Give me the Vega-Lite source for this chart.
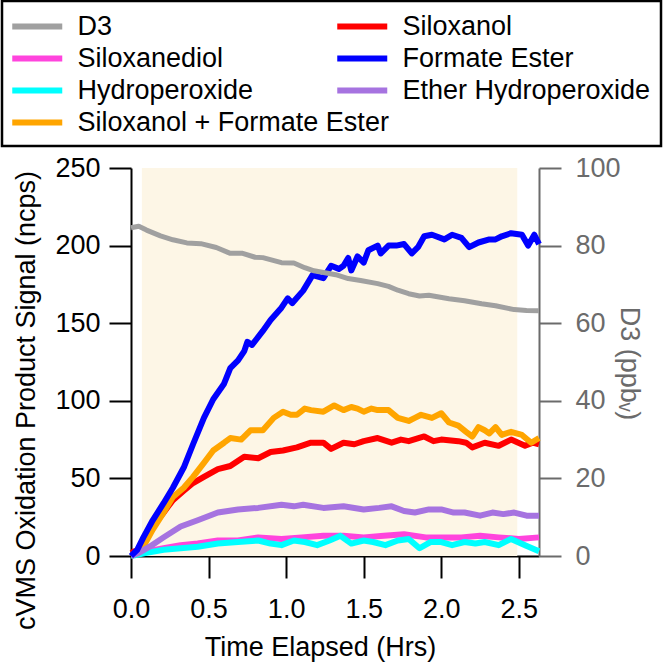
{
  "$schema": "https://vega.github.io/schema/vega-lite/v6.json",
  "width": 408,
  "height": 388,
  "autosize": {"type": "none"},
  "padding": {"left": 131, "top": 168, "right": 127, "bottom": 107},
  "config": {
    "font": "Liberation Sans",
    "view": {"stroke": null},
    "legend": {"strokeWidth": 2.5}
  },
  "datasets": {
    "shade": [{"t0": 0.07, "t1": 2.49}],
    "products": [
      {"s": "Siloxanediol", "t": 0.00, "v": 0},
      {"s": "Siloxanediol", "t": 0.10, "v": 3},
      {"s": "Siloxanediol", "t": 0.21, "v": 5},
      {"s": "Siloxanediol", "t": 0.32, "v": 7},
      {"s": "Siloxanediol", "t": 0.43, "v": 8},
      {"s": "Siloxanediol", "t": 0.56, "v": 10},
      {"s": "Siloxanediol", "t": 0.69, "v": 10},
      {"s": "Siloxanediol", "t": 0.82, "v": 12},
      {"s": "Siloxanediol", "t": 0.97, "v": 11},
      {"s": "Siloxanediol", "t": 1.10, "v": 12},
      {"s": "Siloxanediol", "t": 1.24, "v": 13},
      {"s": "Siloxanediol", "t": 1.37, "v": 13},
      {"s": "Siloxanediol", "t": 1.50, "v": 12},
      {"s": "Siloxanediol", "t": 1.63, "v": 13},
      {"s": "Siloxanediol", "t": 1.76, "v": 14},
      {"s": "Siloxanediol", "t": 1.90, "v": 12},
      {"s": "Siloxanediol", "t": 2.00, "v": 12},
      {"s": "Siloxanediol", "t": 2.13, "v": 12},
      {"s": "Siloxanediol", "t": 2.25, "v": 13},
      {"s": "Siloxanediol", "t": 2.37, "v": 12},
      {"s": "Siloxanediol", "t": 2.50, "v": 11},
      {"s": "Siloxanediol", "t": 2.63, "v": 12},
      {"s": "Hydroperoxide", "t": 0.00, "v": 0},
      {"s": "Hydroperoxide", "t": 0.10, "v": 2},
      {"s": "Hydroperoxide", "t": 0.21, "v": 4},
      {"s": "Hydroperoxide", "t": 0.32, "v": 5},
      {"s": "Hydroperoxide", "t": 0.43, "v": 6},
      {"s": "Hydroperoxide", "t": 0.56, "v": 8},
      {"s": "Hydroperoxide", "t": 0.69, "v": 9},
      {"s": "Hydroperoxide", "t": 0.82, "v": 10},
      {"s": "Hydroperoxide", "t": 0.90, "v": 8},
      {"s": "Hydroperoxide", "t": 0.97, "v": 7},
      {"s": "Hydroperoxide", "t": 1.05, "v": 10},
      {"s": "Hydroperoxide", "t": 1.12, "v": 9},
      {"s": "Hydroperoxide", "t": 1.20, "v": 7},
      {"s": "Hydroperoxide", "t": 1.28, "v": 10},
      {"s": "Hydroperoxide", "t": 1.35, "v": 13},
      {"s": "Hydroperoxide", "t": 1.42, "v": 8},
      {"s": "Hydroperoxide", "t": 1.50, "v": 10},
      {"s": "Hydroperoxide", "t": 1.56, "v": 9},
      {"s": "Hydroperoxide", "t": 1.64, "v": 7},
      {"s": "Hydroperoxide", "t": 1.72, "v": 10},
      {"s": "Hydroperoxide", "t": 1.79, "v": 11},
      {"s": "Hydroperoxide", "t": 1.86, "v": 5},
      {"s": "Hydroperoxide", "t": 1.93, "v": 9},
      {"s": "Hydroperoxide", "t": 2.00, "v": 9},
      {"s": "Hydroperoxide", "t": 2.07, "v": 7},
      {"s": "Hydroperoxide", "t": 2.15, "v": 9},
      {"s": "Hydroperoxide", "t": 2.22, "v": 8},
      {"s": "Hydroperoxide", "t": 2.28, "v": 9},
      {"s": "Hydroperoxide", "t": 2.37, "v": 7},
      {"s": "Hydroperoxide", "t": 2.45, "v": 11},
      {"s": "Hydroperoxide", "t": 2.54, "v": 7},
      {"s": "Hydroperoxide", "t": 2.63, "v": 3},
      {"s": "Siloxanol", "t": 0.00, "v": 2},
      {"s": "Siloxanol", "t": 0.02, "v": 3},
      {"s": "Siloxanol", "t": 0.04, "v": 3},
      {"s": "Siloxanol", "t": 0.08, "v": 8},
      {"s": "Siloxanol", "t": 0.14, "v": 19},
      {"s": "Siloxanol", "t": 0.21, "v": 28},
      {"s": "Siloxanol", "t": 0.27, "v": 36},
      {"s": "Siloxanol", "t": 0.34, "v": 42},
      {"s": "Siloxanol", "t": 0.40, "v": 47},
      {"s": "Siloxanol", "t": 0.47, "v": 51},
      {"s": "Siloxanol", "t": 0.56, "v": 56},
      {"s": "Siloxanol", "t": 0.64, "v": 58},
      {"s": "Siloxanol", "t": 0.73, "v": 64},
      {"s": "Siloxanol", "t": 0.82, "v": 63},
      {"s": "Siloxanol", "t": 0.90, "v": 67},
      {"s": "Siloxanol", "t": 0.98, "v": 68},
      {"s": "Siloxanol", "t": 1.07, "v": 70},
      {"s": "Siloxanol", "t": 1.16, "v": 73},
      {"s": "Siloxanol", "t": 1.24, "v": 73},
      {"s": "Siloxanol", "t": 1.29, "v": 69},
      {"s": "Siloxanol", "t": 1.37, "v": 73},
      {"s": "Siloxanol", "t": 1.44, "v": 72},
      {"s": "Siloxanol", "t": 1.50, "v": 74},
      {"s": "Siloxanol", "t": 1.59, "v": 76},
      {"s": "Siloxanol", "t": 1.68, "v": 73},
      {"s": "Siloxanol", "t": 1.74, "v": 75},
      {"s": "Siloxanol", "t": 1.79, "v": 74},
      {"s": "Siloxanol", "t": 1.89, "v": 77},
      {"s": "Siloxanol", "t": 1.95, "v": 74},
      {"s": "Siloxanol", "t": 2.00, "v": 75},
      {"s": "Siloxanol", "t": 2.11, "v": 74},
      {"s": "Siloxanol", "t": 2.16, "v": 73},
      {"s": "Siloxanol", "t": 2.20, "v": 70},
      {"s": "Siloxanol", "t": 2.28, "v": 73},
      {"s": "Siloxanol", "t": 2.37, "v": 71},
      {"s": "Siloxanol", "t": 2.45, "v": 75},
      {"s": "Siloxanol", "t": 2.54, "v": 71},
      {"s": "Siloxanol", "t": 2.59, "v": 73},
      {"s": "Siloxanol", "t": 2.63, "v": 72},
      {"s": "Siloxanol + Formate Ester", "t": 0.00, "v": 0},
      {"s": "Siloxanol + Formate Ester", "t": 0.04, "v": 2},
      {"s": "Siloxanol + Formate Ester", "t": 0.08, "v": 6},
      {"s": "Siloxanol + Formate Ester", "t": 0.14, "v": 17},
      {"s": "Siloxanol + Formate Ester", "t": 0.21, "v": 28},
      {"s": "Siloxanol + Formate Ester", "t": 0.27, "v": 38},
      {"s": "Siloxanol + Formate Ester", "t": 0.34, "v": 44},
      {"s": "Siloxanol + Formate Ester", "t": 0.40, "v": 51},
      {"s": "Siloxanol + Formate Ester", "t": 0.47, "v": 60},
      {"s": "Siloxanol + Formate Ester", "t": 0.53, "v": 68},
      {"s": "Siloxanol + Formate Ester", "t": 0.60, "v": 73},
      {"s": "Siloxanol + Formate Ester", "t": 0.64, "v": 76},
      {"s": "Siloxanol + Formate Ester", "t": 0.71, "v": 75},
      {"s": "Siloxanol + Formate Ester", "t": 0.77, "v": 81},
      {"s": "Siloxanol + Formate Ester", "t": 0.85, "v": 81},
      {"s": "Siloxanol + Formate Ester", "t": 0.92, "v": 89},
      {"s": "Siloxanol + Formate Ester", "t": 0.98, "v": 93},
      {"s": "Siloxanol + Formate Ester", "t": 1.03, "v": 91},
      {"s": "Siloxanol + Formate Ester", "t": 1.07, "v": 91},
      {"s": "Siloxanol + Formate Ester", "t": 1.12, "v": 95},
      {"s": "Siloxanol + Formate Ester", "t": 1.16, "v": 94},
      {"s": "Siloxanol + Formate Ester", "t": 1.24, "v": 93},
      {"s": "Siloxanol + Formate Ester", "t": 1.31, "v": 97},
      {"s": "Siloxanol + Formate Ester", "t": 1.37, "v": 94},
      {"s": "Siloxanol + Formate Ester", "t": 1.42, "v": 96},
      {"s": "Siloxanol + Formate Ester", "t": 1.46, "v": 95},
      {"s": "Siloxanol + Formate Ester", "t": 1.50, "v": 93},
      {"s": "Siloxanol + Formate Ester", "t": 1.55, "v": 95},
      {"s": "Siloxanol + Formate Ester", "t": 1.59, "v": 94},
      {"s": "Siloxanol + Formate Ester", "t": 1.66, "v": 94},
      {"s": "Siloxanol + Formate Ester", "t": 1.72, "v": 89},
      {"s": "Siloxanol + Formate Ester", "t": 1.79, "v": 87},
      {"s": "Siloxanol + Formate Ester", "t": 1.83, "v": 89},
      {"s": "Siloxanol + Formate Ester", "t": 1.87, "v": 91},
      {"s": "Siloxanol + Formate Ester", "t": 1.94, "v": 89},
      {"s": "Siloxanol + Formate Ester", "t": 2.00, "v": 92},
      {"s": "Siloxanol + Formate Ester", "t": 2.05, "v": 86},
      {"s": "Siloxanol + Formate Ester", "t": 2.11, "v": 84},
      {"s": "Siloxanol + Formate Ester", "t": 2.16, "v": 80},
      {"s": "Siloxanol + Formate Ester", "t": 2.20, "v": 77},
      {"s": "Siloxanol + Formate Ester", "t": 2.24, "v": 83},
      {"s": "Siloxanol + Formate Ester", "t": 2.28, "v": 81},
      {"s": "Siloxanol + Formate Ester", "t": 2.31, "v": 79},
      {"s": "Siloxanol + Formate Ester", "t": 2.35, "v": 83},
      {"s": "Siloxanol + Formate Ester", "t": 2.39, "v": 78},
      {"s": "Siloxanol + Formate Ester", "t": 2.45, "v": 80},
      {"s": "Siloxanol + Formate Ester", "t": 2.52, "v": 78},
      {"s": "Siloxanol + Formate Ester", "t": 2.58, "v": 73},
      {"s": "Siloxanol + Formate Ester", "t": 2.63, "v": 76},
      {"s": "Ether Hydroperoxide", "t": 0.00, "v": 0},
      {"s": "Ether Hydroperoxide", "t": 0.05, "v": 2},
      {"s": "Ether Hydroperoxide", "t": 0.12, "v": 6},
      {"s": "Ether Hydroperoxide", "t": 0.21, "v": 12},
      {"s": "Ether Hydroperoxide", "t": 0.32, "v": 19},
      {"s": "Ether Hydroperoxide", "t": 0.43, "v": 23},
      {"s": "Ether Hydroperoxide", "t": 0.56, "v": 28},
      {"s": "Ether Hydroperoxide", "t": 0.69, "v": 30},
      {"s": "Ether Hydroperoxide", "t": 0.82, "v": 31},
      {"s": "Ether Hydroperoxide", "t": 0.97, "v": 33},
      {"s": "Ether Hydroperoxide", "t": 1.05, "v": 32},
      {"s": "Ether Hydroperoxide", "t": 1.11, "v": 33},
      {"s": "Ether Hydroperoxide", "t": 1.24, "v": 31},
      {"s": "Ether Hydroperoxide", "t": 1.37, "v": 32},
      {"s": "Ether Hydroperoxide", "t": 1.50, "v": 30},
      {"s": "Ether Hydroperoxide", "t": 1.60, "v": 31},
      {"s": "Ether Hydroperoxide", "t": 1.68, "v": 32},
      {"s": "Ether Hydroperoxide", "t": 1.76, "v": 29},
      {"s": "Ether Hydroperoxide", "t": 1.83, "v": 28},
      {"s": "Ether Hydroperoxide", "t": 1.92, "v": 30},
      {"s": "Ether Hydroperoxide", "t": 2.00, "v": 30},
      {"s": "Ether Hydroperoxide", "t": 2.08, "v": 28},
      {"s": "Ether Hydroperoxide", "t": 2.15, "v": 28},
      {"s": "Ether Hydroperoxide", "t": 2.25, "v": 26},
      {"s": "Ether Hydroperoxide", "t": 2.33, "v": 28},
      {"s": "Ether Hydroperoxide", "t": 2.40, "v": 27},
      {"s": "Ether Hydroperoxide", "t": 2.47, "v": 28},
      {"s": "Ether Hydroperoxide", "t": 2.55, "v": 26},
      {"s": "Ether Hydroperoxide", "t": 2.63, "v": 26},
      {"s": "Formate Ester", "t": 0.00, "v": 0},
      {"s": "Formate Ester", "t": 0.04, "v": 4},
      {"s": "Formate Ester", "t": 0.08, "v": 12},
      {"s": "Formate Ester", "t": 0.14, "v": 23},
      {"s": "Formate Ester", "t": 0.21, "v": 34},
      {"s": "Formate Ester", "t": 0.27, "v": 44},
      {"s": "Formate Ester", "t": 0.34, "v": 57},
      {"s": "Formate Ester", "t": 0.40, "v": 72},
      {"s": "Formate Ester", "t": 0.47, "v": 89},
      {"s": "Formate Ester", "t": 0.53, "v": 101},
      {"s": "Formate Ester", "t": 0.60, "v": 111},
      {"s": "Formate Ester", "t": 0.64, "v": 121},
      {"s": "Formate Ester", "t": 0.69, "v": 126},
      {"s": "Formate Ester", "t": 0.73, "v": 132},
      {"s": "Formate Ester", "t": 0.75, "v": 138},
      {"s": "Formate Ester", "t": 0.78, "v": 136},
      {"s": "Formate Ester", "t": 0.85, "v": 145},
      {"s": "Formate Ester", "t": 0.90, "v": 152},
      {"s": "Formate Ester", "t": 0.97, "v": 160},
      {"s": "Formate Ester", "t": 1.01, "v": 166},
      {"s": "Formate Ester", "t": 1.04, "v": 163},
      {"s": "Formate Ester", "t": 1.11, "v": 171},
      {"s": "Formate Ester", "t": 1.17, "v": 181},
      {"s": "Formate Ester", "t": 1.24, "v": 179},
      {"s": "Formate Ester", "t": 1.29, "v": 187},
      {"s": "Formate Ester", "t": 1.34, "v": 185},
      {"s": "Formate Ester", "t": 1.37, "v": 187},
      {"s": "Formate Ester", "t": 1.40, "v": 192},
      {"s": "Formate Ester", "t": 1.42, "v": 184},
      {"s": "Formate Ester", "t": 1.46, "v": 193},
      {"s": "Formate Ester", "t": 1.50, "v": 189},
      {"s": "Formate Ester", "t": 1.53, "v": 197},
      {"s": "Formate Ester", "t": 1.59, "v": 200},
      {"s": "Formate Ester", "t": 1.61, "v": 195},
      {"s": "Formate Ester", "t": 1.66, "v": 200},
      {"s": "Formate Ester", "t": 1.71, "v": 200},
      {"s": "Formate Ester", "t": 1.76, "v": 201},
      {"s": "Formate Ester", "t": 1.81, "v": 195},
      {"s": "Formate Ester", "t": 1.85, "v": 199},
      {"s": "Formate Ester", "t": 1.89, "v": 206},
      {"s": "Formate Ester", "t": 1.94, "v": 207},
      {"s": "Formate Ester", "t": 2.02, "v": 204},
      {"s": "Formate Ester", "t": 2.07, "v": 207},
      {"s": "Formate Ester", "t": 2.13, "v": 205},
      {"s": "Formate Ester", "t": 2.18, "v": 199},
      {"s": "Formate Ester", "t": 2.24, "v": 202},
      {"s": "Formate Ester", "t": 2.31, "v": 204},
      {"s": "Formate Ester", "t": 2.35, "v": 204},
      {"s": "Formate Ester", "t": 2.39, "v": 206},
      {"s": "Formate Ester", "t": 2.45, "v": 208},
      {"s": "Formate Ester", "t": 2.52, "v": 207},
      {"s": "Formate Ester", "t": 2.56, "v": 200},
      {"s": "Formate Ester", "t": 2.60, "v": 207},
      {"s": "Formate Ester", "t": 2.63, "v": 201}
    ],
    "d3": [
      {"s": "D3", "t": 0.00, "v": 84.6},
      {"s": "D3", "t": 0.05, "v": 85.0},
      {"s": "D3", "t": 0.10, "v": 84.0},
      {"s": "D3", "t": 0.19, "v": 82.5},
      {"s": "D3", "t": 0.27, "v": 81.5},
      {"s": "D3", "t": 0.36, "v": 80.7},
      {"s": "D3", "t": 0.45, "v": 80.5},
      {"s": "D3", "t": 0.55, "v": 79.5},
      {"s": "D3", "t": 0.64, "v": 78.0},
      {"s": "D3", "t": 0.72, "v": 78.0},
      {"s": "D3", "t": 0.80, "v": 77.0},
      {"s": "D3", "t": 0.85, "v": 76.9},
      {"s": "D3", "t": 0.97, "v": 75.6},
      {"s": "D3", "t": 1.05, "v": 75.5},
      {"s": "D3", "t": 1.12, "v": 74.3},
      {"s": "D3", "t": 1.18, "v": 73.5},
      {"s": "D3", "t": 1.25, "v": 73.0},
      {"s": "D3", "t": 1.32, "v": 72.5},
      {"s": "D3", "t": 1.40, "v": 71.5},
      {"s": "D3", "t": 1.48, "v": 71.0},
      {"s": "D3", "t": 1.59, "v": 70.2},
      {"s": "D3", "t": 1.66, "v": 69.5},
      {"s": "D3", "t": 1.72, "v": 68.5},
      {"s": "D3", "t": 1.79, "v": 67.6},
      {"s": "D3", "t": 1.86, "v": 67.0},
      {"s": "D3", "t": 1.92, "v": 67.2},
      {"s": "D3", "t": 2.05, "v": 66.3},
      {"s": "D3", "t": 2.15, "v": 65.8},
      {"s": "D3", "t": 2.26, "v": 65.0},
      {"s": "D3", "t": 2.35, "v": 64.5},
      {"s": "D3", "t": 2.47, "v": 63.5},
      {"s": "D3", "t": 2.55, "v": 63.3},
      {"s": "D3", "t": 2.63, "v": 63.2}
    ]
  },
  "layer": [
    {
      "layer": [
        {
          "data": {"name": "shade"},
          "mark": {"type": "rect", "color": "#FDF6E6"},
          "encoding": {
            "x": {"field": "t0", "type": "quantitative", "title": "Time Elapsed (Hrs)"},
            "x2": {"field": "t1"},
            "y": {"datum": 0, "type": "quantitative", "title": "cVMS Oxidation Product Signal (ncps)"},
            "y2": {"datum": 250}
          }
        },
        {
          "data": {"name": "products"},
          "transform": [{"filter": {"field": "s", "oneOf": ["Siloxanediol", "Hydroperoxide"]}}],
          "mark": {"type": "line", "strokeWidth": 6, "strokeJoin": "round"},
          "encoding": {
            "x": {
              "field": "t", "type": "quantitative",
              "scale": {"domain": [0, 2.63], "nice": false, "zero": false},
              "axis": {
                "values": [0, 0.5, 1, 1.5, 2, 2.5], "format": ".1f",
                "title": "Time Elapsed (Hrs)", "grid": false,
                "domainColor": "black", "domainWidth": 2,
                "tickColor": "black", "tickWidth": 2, "tickSize": 22,
                "labelFontSize": 27, "labelColor": "black", "labelPadding": 18,
                "labelFlush": false, "labelOverlap": false,
                "titleFontSize": 27, "titleFontWeight": "normal", "titleColor": "black",
                "titleX": 189, "titleY": 91, "titleBaseline": "middle"
              }
            },
            "y": {
              "field": "v", "type": "quantitative",
              "scale": {"domain": [0, 250], "nice": false},
              "axis": {
                "values": [0, 50, 100, 150, 200, 250],
                "title": "cVMS Oxidation Product Signal (ncps)", "grid": false,
                "domainColor": "black", "domainWidth": 2,
                "tickColor": "black", "tickWidth": 2, "tickSize": 22,
                "labelFontSize": 27, "labelColor": "black", "labelPadding": 9,
                "labelFlush": false, "labelOverlap": false,
                "titleFontSize": 27, "titleFontWeight": "normal", "titleColor": "black",
                "titleY": 232, "titlePadding": 14
              }
            },
            "color": {
              "field": "s", "type": "nominal",
              "scale": {
                "domain": ["D3", "Siloxanediol", "Hydroperoxide", "Siloxanol + Formate Ester"],
                "range": ["#A0A0A0", "#FF44DD", "#00FFFF", "#FFA500"]
              },
              "legend": {
                "title": null,
                "orient": "none", "legendX": -129, "legendY": -167,
                "rowPadding": 3,
                "symbolType": "M-2,0H2", "symbolSize": 625, "symbolStrokeWidth": 6, "symbolOffset": 9.75,
                "labelFontSize": 27, "labelOffset": 24.75, "labelLimit": 500, "labelColor": "black",
                "padding": 10
              }
            }
          }
        },
        {
          "data": {"name": "products"},
          "transform": [{"filter": {"field": "s", "equal": "Siloxanol"}}],
          "mark": {"type": "line", "strokeWidth": 6, "strokeJoin": "round"},
          "encoding": {
            "x": {"field": "t", "type": "quantitative", "title": "Time Elapsed (Hrs)"},
            "y": {"field": "v", "type": "quantitative", "title": "cVMS Oxidation Product Signal (ncps)"},
            "stroke": {
              "field": "s", "type": "nominal",
              "scale": {
                "domain": ["Siloxanol", "Formate Ester", "Ether Hydroperoxide", ""],
                "range": ["#FF0000", "#0000FF", "#A673E0", "rgba(0,0,0,0)"]
              },
              "legend": {
                "title": null, "orient": "none", "legendX": -129, "legendY": -167,
                "rowPadding": 3,
                "symbolType": "M-2,0H2", "symbolSize": 625, "symbolStrokeWidth": 6, "symbolOffset": 334.75,
                "labelFontSize": 27, "labelOffset": 24.75, "labelLimit": 500, "labelColor": "black",
                "padding": 10, "strokeColor": "black"
              }
            }
          }
        },
        {
          "data": {"name": "products"},
          "transform": [{"filter": {"field": "s", "equal": "Siloxanol + Formate Ester"}}],
          "mark": {"type": "line", "strokeWidth": 6, "strokeJoin": "round"},
          "encoding": {
            "x": {"field": "t", "type": "quantitative", "title": "Time Elapsed (Hrs)"},
            "y": {"field": "v", "type": "quantitative", "title": "cVMS Oxidation Product Signal (ncps)"},
            "color": {"field": "s", "type": "nominal"}
          }
        },
        {
          "data": {"name": "products"},
          "transform": [{"filter": {"field": "s", "oneOf": ["Ether Hydroperoxide", "Formate Ester"]}}],
          "mark": {"type": "line", "strokeWidth": 6, "strokeJoin": "round"},
          "encoding": {
            "x": {"field": "t", "type": "quantitative", "title": "Time Elapsed (Hrs)"},
            "y": {"field": "v", "type": "quantitative", "title": "cVMS Oxidation Product Signal (ncps)"},
            "stroke": {"field": "s", "type": "nominal"}
          }
        }
      ]
    },
    {
      "data": {"name": "d3"},
      "mark": {"type": "line", "strokeWidth": 5, "strokeJoin": "round"},
      "encoding": {
        "x": {"field": "t", "type": "quantitative", "title": "Time Elapsed (Hrs)"},
        "y": {
          "field": "v", "type": "quantitative",
          "scale": {"domain": [0, 100], "nice": false},
          "axis": {
            "orient": "right", "values": [0, 20, 40, 60, 80, 100],
            "title": "D3 (ppbᵥ)", "grid": false,
            "domainColor": "#6B6B6B", "domainWidth": 2,
            "tickColor": "#6B6B6B", "tickWidth": 2, "tickSize": 22,
            "labelFontSize": 27, "labelColor": "#6B6B6B", "labelPadding": 14,
            "labelFlush": false, "labelOverlap": false,
            "titleFontSize": 27, "titleFontWeight": "normal", "titleColor": "#6B6B6B",
            "titleAngle": 90, "titleX": 89, "titleY": 195, "titleAlign": "center", "titleBaseline": "middle"
          }
        },
        "color": {"field": "s", "type": "nominal"}
      }
    }
  ],
  "resolve": {"scale": {"y": "independent"}}
}
